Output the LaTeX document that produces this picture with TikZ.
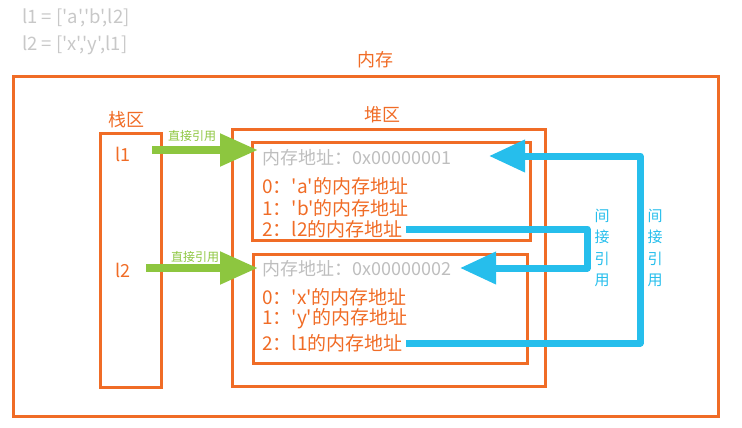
\documentclass[tikz,border=0pt]{standalone}
\usepackage{fontspec}
\setmainfont{Noto Sans CJK SC}[Ligatures=TeXOff]
\usetikzlibrary{arrows.meta}
\definecolor{memorange}{RGB}{240,108,38}
\definecolor{refgreen}{RGB}{141,198,63}
\definecolor{refblue}{RGB}{38,190,236}
\definecolor{codegrey}{RGB}{200,200,200}
\definecolor{addrgrey}{RGB}{190,190,190}
\begin{document}
\begin{tikzpicture}[x=1pt,y=-1pt,
  region/.style={draw=memorange,line width=3pt},
  title/.style={text=memorange,font=\fontsize{18}{20}\selectfont},
  cell/.style={anchor=west,inner sep=0pt,text=memorange,font=\fontsize{19}{21}\selectfont},
  addr/.style={cell,text=addrgrey,font=\fontsize{18}{20}\selectfont},
  code/.style={anchor=west,inner sep=0pt,text=codegrey,font=\fontsize{18.5}{20}\selectfont},
  direct/.style={draw=refgreen,line width=8pt,-{Triangle[length=38pt,width=31pt]}},
  directlbl/.style={text=refgreen,font=\fontsize{12}{13}\selectfont,inner sep=0pt},
  indirect/.style={draw=refblue,line width=7pt,line join=round,-{Triangle[length=36pt,width=31pt]}},
  indirectlbl/.style={text=refblue,font=\fontsize{15}{21.5}\selectfont,align=center,inner sep=0pt}]
\useasboundingbox (0,0) rectangle (742,428);

% source lines
\node[code] (src1) at (22,18) {l1 = ['a','b',l2]};
\node[code] (src2) at (22,45) {l2 = ['x','y',l1]};

% memory, stack and heap regions
\draw[region] (13,77) rectangle (718,416);
\node[title] (mem) at (375,60) {内存};
\draw[region] (100,133) rectangle (161,387);
\node[title] (stack) at (126,120) {栈区};
\draw[region] (232,129) rectangle (545,386);
\node[title] (heap) at (382,115) {堆区};

% list objects on the heap
\draw[region] (252,142) rectangle (530,240);
\draw[region] (253,254) rectangle (527,363);

\node[addr] (a1) at (262,158) {内存地址：0x00000001};
\node[cell] (e10) at (262,186) {0：'a'的内存地址};
\node[cell] (e11) at (262,208) {1：'b'的内存地址};
\node[cell] (e12) at (262,229) {2：l2的内存地址};

\node[addr] (a2) at (262,269) {内存地址：0x00000002};
\node[cell] (e20) at (262,297) {0：'x'的内存地址};
\node[cell] (e21) at (262,319) {1：'y'的内存地址};
\node[cell] (e22) at (262,343) {2：l1的内存地址};

% stack variables
\node[title] (v1) at (123,154) {l1};
\node[title] (v2) at (123,270) {l2};

% direct references from the stack
\coordinate (d1s) at (152,150);
\coordinate (d1e) at (258,150);
\coordinate (d2s) at (146,268);
\coordinate (d2e) at (258,268);
\draw[direct] (d1s) -- (d1e);
\draw[direct] (d2s) -- (d2e);
\node[directlbl] (dl1) at (192,136) {直接引用};
\node[directlbl] (dl2) at (195,257) {直接引用};

% indirect references between the lists
\coordinate (i1a) at (587,229);
\coordinate (i1b) at (587,268);
\coordinate (i1t) at (460,268);
\draw[indirect] (e12.east) ++(3,0) -- (i1a) -- (i1b) -- (i1t);
\coordinate (i2a) at (640,343);
\coordinate (i2b) at (640,156);
\coordinate (i2t) at (489,156);
\draw[indirect] (e22.east) ++(3,0) -- (i2a) -- (i2b) -- (i2t);
\node[indirectlbl] (il1) at (602,248) {间\\接\\引\\用};
\node[indirectlbl] (il2) at (655,248) {间\\接\\引\\用};
\end{tikzpicture}
\end{document}
